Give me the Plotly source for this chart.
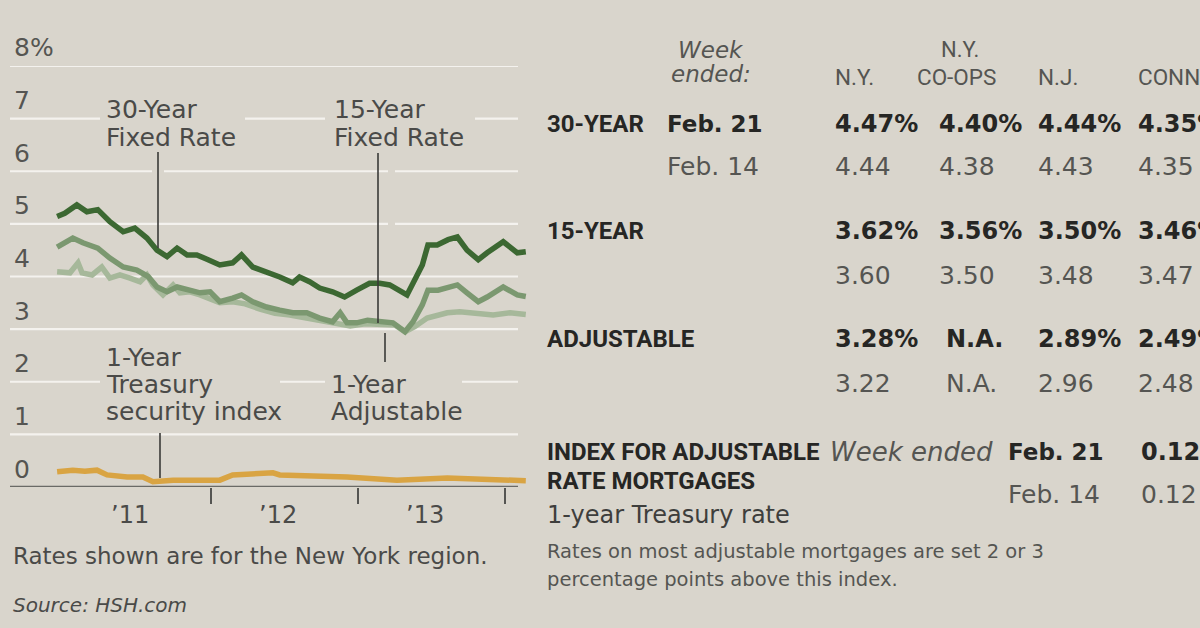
import plotly.graph_objects as go

W, H = 1200, 628
BG = "#d9d5cc"
SANS = "'DejaVu Sans', 'Liberation Sans', sans-serif"
COND = "Roboto, 'Liberation Sans', sans-serif"

# ---------------- data ----------------
dates_30 = ["2010-12-15", "2011-01-03", "2011-02-02", "2011-02-27", "2011-03-26", "2011-04-25",
            "2011-05-28", "2011-06-26", "2011-07-26", "2011-08-20", "2011-09-14", "2011-10-09",
            "2011-11-03", "2011-11-27", "2011-12-25", "2012-01-23", "2012-02-24", "2012-03-17",
            "2012-04-14", "2012-05-18", "2012-06-20", "2012-07-22", "2012-08-08", "2012-09-02",
            "2012-09-27", "2012-10-29", "2012-11-28", "2012-12-28", "2013-01-29", "2013-02-23",
            "2013-03-20", "2013-05-02", "2013-05-22", "2013-06-09", "2013-06-23", "2013-07-16",
            "2013-08-12", "2013-09-04", "2013-09-28", "2013-10-26", "2013-11-17", "2013-12-27",
            "2014-01-31", "2014-02-21"]
rate_30 = [5.14, 5.20, 5.36, 5.23, 5.27, 5.04,
           4.85, 4.92, 4.73, 4.50, 4.38, 4.54,
           4.41, 4.41, 4.32, 4.22, 4.26, 4.41,
           4.18, 4.09, 3.99, 3.88, 3.99, 3.90,
           3.78, 3.71, 3.61, 3.74, 3.87, 3.87,
           3.84, 3.65, 3.97, 4.22, 4.60, 4.60,
           4.70, 4.75, 4.50, 4.32, 4.45, 4.66,
           4.45, 4.47]

dates_15 = ["2010-12-15", "2011-01-23", "2011-02-17", "2011-03-26", "2011-04-25", "2011-05-28",
            "2011-07-01", "2011-07-29", "2011-08-20", "2011-09-14", "2011-10-09", "2011-11-03",
            "2011-12-05", "2011-12-30", "2012-01-23", "2012-02-24", "2012-03-17", "2012-04-14",
            "2012-05-18", "2012-06-20", "2012-07-22", "2012-08-26", "2012-09-27", "2012-10-29",
            "2012-11-17", "2012-12-04", "2012-12-28", "2013-01-24", "2013-02-23", "2013-03-28",
            "2013-04-27", "2013-05-17", "2013-06-09", "2013-06-23", "2013-07-18", "2013-08-10",
            "2013-09-04", "2013-09-28", "2013-10-26", "2013-11-17", "2013-12-27", "2014-01-31",
            "2014-02-21"]
rate_15 = [4.56, 4.73, 4.64, 4.54, 4.35, 4.18,
           4.12, 4.00, 3.80, 3.71, 3.80, 3.74,
           3.69, 3.71, 3.52, 3.59, 3.65, 3.52,
           3.42, 3.36, 3.31, 3.31, 3.21, 3.14,
           3.31, 3.12, 3.12, 3.17, 3.14, 3.12,
           2.95, 3.14, 3.46, 3.74, 3.74, 3.80,
           3.84, 3.69, 3.52, 3.61, 3.80, 3.65,
           3.62]

dates_adj = ["2010-12-15", "2011-01-16", "2011-02-05", "2011-02-15", "2011-03-12", "2011-04-05",
             "2011-04-25", "2011-05-20", "2011-06-14", "2011-07-09", "2011-07-26", "2011-08-10",
             "2011-09-04", "2011-09-29", "2011-10-16", "2011-11-10", "2011-12-05", "2011-12-25",
             "2012-01-23", "2012-02-24", "2012-03-26", "2012-05-02", "2012-06-08", "2012-07-15",
             "2012-08-21", "2012-09-27", "2012-11-03", "2012-12-12", "2013-01-18", "2013-02-23",
             "2013-04-02", "2013-04-27", "2013-05-22", "2013-06-21", "2013-08-10", "2013-09-10",
             "2013-10-23", "2013-12-02", "2014-01-13", "2014-02-21"]
rate_adj = [4.09, 4.07, 4.26, 4.07, 4.03, 4.18,
            3.97, 4.03, 3.97, 3.90, 4.03, 3.84,
            3.65, 3.84, 3.69, 3.71, 3.65, 3.59,
            3.50, 3.52, 3.48, 3.38, 3.30, 3.27,
            3.22, 3.16, 3.10, 3.06, 3.10, 3.10,
            3.08, 2.95, 3.05, 3.21, 3.31, 3.33,
            3.31, 3.27, 3.31, 3.28]

dates_tsy = ["2010-12-15", "2011-01-23", "2011-02-22", "2011-03-24", "2011-04-18", "2011-06-07",
             "2011-07-16", "2011-08-10", "2011-09-29", "2011-12-05", "2012-01-23", "2012-02-24",
             "2012-06-03", "2012-06-20", "2012-12-04", "2013-04-07", "2013-08-10", "2014-02-21"]
rate_tsy = [0.29, 0.32, 0.30, 0.32, 0.23, 0.19,
            0.19, 0.10, 0.13, 0.13, 0.13, 0.23,
            0.27, 0.23, 0.19, 0.13, 0.17, 0.12]

y_ticks = [0, 1, 2, 3, 4, 5, 6, 7, 8]
y_tick_labels = ["0", "1", "2", "3", "4", "5", "6", "7", "8%"]
year_ticks = ["2012-01-01", "2013-01-01", "2014-01-01"]
year_label_pos = ["2011-07-02", "2012-07-02", "2013-07-02"]
year_labels = ["’11", "’12", "’13"]

# table
col_headers_top = ["", "N.Y.", "", ""]
col_headers = ["N.Y.", "CO-OPS", "N.J.", "CONN."]
row_labels = ["30-YEAR", "15-YEAR", "ADJUSTABLE"]
week_cur, week_prev = "Feb. 21", "Feb. 14"
rates_cur = [["4.47%", "4.40%", "4.44%", "4.35%"],
             ["3.62%", "3.56%", "3.50%", "3.46%"],
             ["3.28%", "N.A.", "2.89%", "2.49%"]]
rates_prev = [["4.44", "4.38", "4.43", "4.35"],
              ["3.60", "3.50", "3.48", "3.47"],
              ["3.22", "N.A.", "2.96", "2.48"]]
index_cur, index_prev = "0.12%", "0.12"

# ---------------- helpers for layout positions (pixels -> paper) ----------------
Y0_PX, Y8_PX = 487, 66


def px(x):
    return x / W


def py(y):
    return 1 - y / H


def grid_px(v):
    return Y0_PX - v * (Y0_PX - Y8_PX) / 8


fig = go.Figure()
series = [
    (dates_tsy, rate_tsy, "#d9a443", "1-Year Treasury security index"),
    (dates_adj, rate_adj, "#a6b89a", "1-Year Adjustable"),
    (dates_15, rate_15, "#7b9870", "15-Year Fixed Rate"),
    (dates_30, rate_30, "#3c6832", "30-Year Fixed Rate"),
]
for xs, ys, col, name in series:
    fig.add_trace(go.Scatter(x=xs, y=ys, mode="lines", name=name,
                             line=dict(color=col, width=5.5, shape="linear"),
                             hoverinfo="skip", showlegend=False))

shapes = []
# gridlines
for v in y_ticks[1:]:
    shapes.append(dict(type="line", xref="paper", yref="y", x0=px(10), x1=px(518), y0=v, y1=v,
                       line=dict(color="#f4f2ee", width=2.2), layer="below"))
# baseline
shapes.append(dict(type="line", xref="paper", yref="y", x0=px(10), x1=px(518), y0=0, y1=0,
                   line=dict(color="#6a6a66", width=2.5), layer="below"))
# gaps in the gridlines behind labels
for (x0, y0, x1, y1) in [(100, 98, 245, 150), (325, 98, 475, 150),
                         (100, 345, 280, 425), (325, 370, 462, 425),
                         (152, 164, 164, 179), (388, 164, 395, 179), (388, 217, 395, 231)]:
    shapes.append(dict(type="rect", xref="paper", yref="paper", x0=px(x0), x1=px(x1),
                       y0=py(y1), y1=py(y0), fillcolor=BG, line=dict(width=0), layer="below"))
# leader lines
for (x, y0, y1) in [(158, 152, 248), (378, 153, 323), (385, 333, 362), (160, 433, 478)]:
    shapes.append(dict(type="line", xref="paper", yref="paper", x0=px(x), x1=px(x),
                       y0=py(y0), y1=py(y1), line=dict(color="#3a3a38", width=1.6), layer="above"))

ann = []


def text(x, y, s, size, color="#4a4a48", anchor="left", bold=False, italic=False, family=SANS):
    if bold:
        s = "<b>" + s + "</b>"
    if italic:
        s = "<i>" + s + "</i>"
    ann.append(dict(x=px(x), y=py(y), xref="paper", yref="paper", text=s, showarrow=False,
                    xanchor=anchor, yanchor="middle",
                    font=dict(family=family, size=size, color=color)))


# y tick labels
for v, lab in zip(y_ticks, y_tick_labels):
    text(12, grid_px(v) - 18, lab, 25, "#555552")
# year labels
for d, lab in zip(year_label_pos, year_labels):
    ann.append(dict(x=d, y=py(515), xref="x", yref="paper", text=lab, showarrow=False,
                    xanchor="center", yanchor="middle", xshift=-7,
                    font=dict(family=SANS, size=24, color="#4a4a48")))

# chart labels
LC = "#4a4a48"
text(104, 110, "30-Year", 25, LC)
text(104, 137, "Fixed Rate", 25, LC)
text(332, 110, "15-Year", 25, LC)
text(332, 137, "Fixed Rate", 25, LC)
text(104, 357, "1-Year", 25, LC)
text(104, 384, "Treasury", 25, LC)
text(104, 411, "security index", 25, LC)
text(329, 384, "1-Year", 25, LC)
text(329, 411, "Adjustable", 25, LC)

# footnotes left
text(11, 556, "Rates shown are for the New York region.", 23, "#4a4a48")
text(11, 605, "Source: HSH.com", 20, "#4a4a48", italic=True)

# table
DK = "#262624"
GR = "#555552"
col_x = [833, 937, 1036, 1136]
text(711, 50, "Week", 23, GR, anchor="center", italic=True)
text(711, 74, "ended:", 23, GR, anchor="center", italic=True)
for i, (top, h) in enumerate(zip(col_headers_top, col_headers)):
    if top:
        text(960, 50, top, 22, GR, anchor="center", family=COND)
    text(col_x[i] if h != "CO-OPS" else 915, 77, h, 22.5, GR, family=COND)

row_y = [(124, 166), (231, 275), (339, 383)]
for r, lab in enumerate(row_labels):
    y1, y2 = row_y[r]
    text(545, y1, lab, 24, DK, bold=True, family=COND)
    if r == 0:
        text(665, y1, week_cur, 23, DK, bold=True)
        text(665, y2, week_prev, 25, GR)
    for c in range(4):
        vc, vp = rates_cur[r][c], rates_prev[r][c]
        xoff = 7 if vc == "N.A." else 0
        text(col_x[c] + xoff, y1, vc, 24, DK, bold=True)
        text(col_x[c] + xoff, y2, vp, 25, GR)

text(545, 452, "INDEX FOR ADJUSTABLE", 24, DK, bold=True, family=COND)
text(828, 452, "Week ended", 26, GR, italic=True)
text(1006, 452, week_cur, 23, DK, bold=True)
text(1139, 452, index_cur, 24, DK, bold=True)
text(545, 481, "RATE MORTGAGES", 24, DK, bold=True, family=COND)
text(1006, 494, week_prev, 25, GR)
text(1139, 494, index_prev, 25, GR)
text(545, 515, "1-year Treasury rate", 24, "#3e3e3c")
text(545, 551, "Rates on most adjustable mortgages are set 2 or 3", 19.5, GR)
text(545, 579, "percentage points above this index.", 19.5, GR)

fig.update_layout(
    width=W, height=H,
    margin=dict(l=0, r=0, t=0, b=0),
    paper_bgcolor=BG, plot_bgcolor=BG,
    showlegend=False,
    xaxis=dict(type="date", domain=[px(10), px(527)], range=["2010-08-20", "2014-02-24"],
               showgrid=False, zeroline=False, showline=False,
               tickvals=year_ticks, ticktext=["", "", ""], ticks="outside", ticklen=16,
               tickwidth=2, tickcolor="#555552", showticklabels=False, fixedrange=True),
    yaxis=dict(domain=[py(Y0_PX), py(Y8_PX)], range=[0, 8], showgrid=False, zeroline=False,
               showline=False, showticklabels=False, ticks="", fixedrange=True),
    shapes=shapes,
    annotations=ann,
)

fig.write_html("out.html", config={"displayModeBar": False},
               post_script="document.body.style.margin='0';document.body.style.background='%s';" % BG)
